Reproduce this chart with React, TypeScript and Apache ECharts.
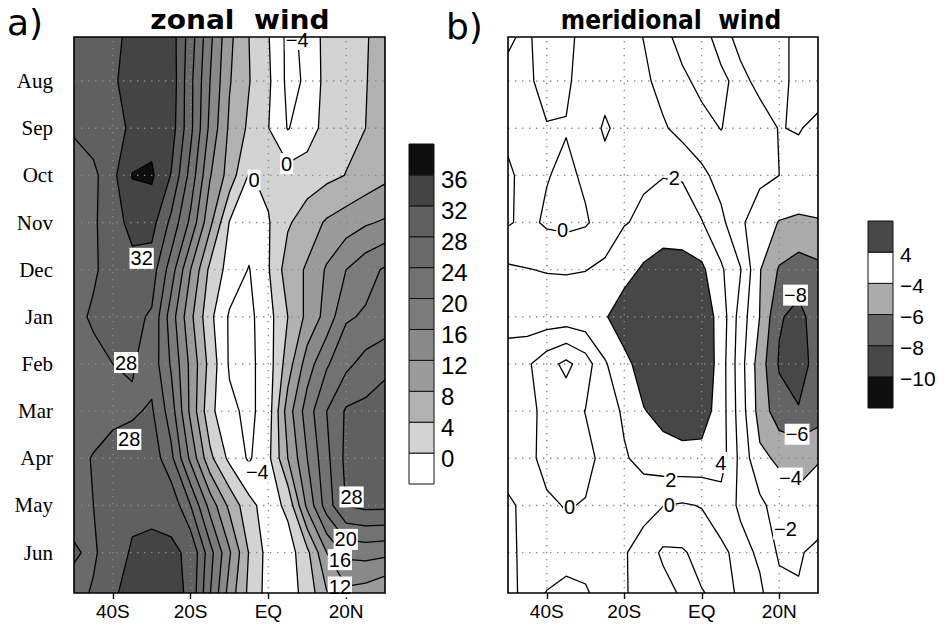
import React, { useEffect, useRef } from 'react';
import * as echarts from 'echarts';

// Grid nodes: latitude (south negative) and month rows (0 = Jul ... 12 = following Jul)
const LATS = [-50, -45, -40, -35, -30, -25, -20, -15, -10, -5, 0, 5, 10, 15, 20, 25, 30];
const MONTHS = [0, 1, 2, 3, 4, 5, 6, 7, 8, 9, 10, 11, 12];

const MONTH_TICKS = [1, 2, 3, 4, 5, 6, 7, 8, 9, 10, 11];
const MONTH_NAMES = ['Aug', 'Sep', 'Oct', 'Nov', 'Dec', 'Jan', 'Feb', 'Mar', 'Apr', 'May', 'Jun'];
const LAT_TICKS = [-40, -20, 0, 20];
const LAT_NAMES = ['40S', '20S', 'EQ', '20N'];

// Zonal wind (m/s), one row per month, one column per latitude node
const ZONAL_WIND = [
  [29, 30, 31, 33, 34, 34, 26, 17, 9, 4, 0.2, -5, -3, 1.5, 3, 3.8, 5],
  [29, 30.5, 31.5, 33.5, 34.5, 34.6, 25, 16, 8.3, 4.2, 0.7, -5, -3.5, 1.5, 2.8, 3.9, 5],
  [28.5, 30, 31, 32.5, 34.5, 34, 25, 15, 7.3, 3.3, 0.1, -4.2, -2, 1.5, 3, 4, 4.5],
  [26, 27, 31, 36.2, 36.6, 31.8, 22.5, 12.3, 6.3, -0.3, 1, 1.5, 2, 3, 4.1, 5.5, 7],
  [27, 27.5, 30, 33.5, 33.5, 27, 19, 9, -0.2, -2, -0.3, 3.5, 6, 8.5, 10, 11.5, 12.5],
  [26.5, 27.5, 29.5, 30.5, 30, 22, 12, 3, -1.5, -4.2, -0.3, 6, 8.5, 12.5, 16, 18.5, 20.5],
  [27, 28.5, 29, 29, 27.5, 18, 9, 1, -4.5, -5, -1.5, 4, 9, 13.5, 19.5, 20.5, 21],
  [26.5, 27, 28, 28.3, 26.5, 19.5, 11, 2.5, -4.5, -5, -2, 6, 14, 19.5, 23, 25.5, 27.5],
  [26, 26.5, 27, 27.5, 28.5, 22, 11, 1, -3, -5, -2, 10, 18, 24, 28.5, 29, 29],
  [27, 28.2, 29.5, 30, 30.5, 25, 15, 5, -1, -4.5, -1, 8, 16, 23, 29, 29.5, 29],
  [27, 28, 30, 31, 31, 31, 24, 14.5, 7, 1.3, -2, 1, 13, 22, 28.2, 29, 29],
  [28.3, 27.5, 30, 32.5, 33, 32.5, 31.5, 21.5, 12.5, 3.8, -1.5, -2, 3, 12, 17, 17.5, 17],
  [27, 28.5, 31.5, 34, 34.5, 34, 31, 20, 10, 3, -1.5, -2, 1.5, 7, 10, 9, 7],
];

// Meridional wind (m/s), same layout
const MERIDIONAL_WIND = [
  [-0.2, 0.2, -0.7, -0.5, 0.6, 1.2, 1, -0.1, -1.6, -2.6, -2.3, -1.6, -2.4, -2.8, -2.5, -1.5, -1],
  [0.3, 0.3, -0.6, -0.3, 0.8, 1.2, 1.2, 0.5, -0.8, -1.7, -2.4, -2.2, -1.7, -2.3, -2.4, -1.6, -1.2],
  [0.3, 0.5, 0.1, 0.1, 0.8, 2.3, 1.2, 1, 0.3, -0.8, -1.5, -2.05, -1.2, -1.5, -2.05, -1.9, -2.4],
  [-0.2, 0.4, 0.1, -0.4, 0.3, 1.2, 1.5, 1.8, 1.95, 1.9, 0.5, -0.8, -1.3, -1.6, -2, -2.6, -3],
  [-0.2, 0.5, -0.3, -0.5, -0.2, 0.8, 1.9, 2.3, 2.8, 2.6, 2.1, 0.5, -1.7, -3, -4.1, -4.3, -4.1],
  [2.3, 2.05, 1.9, 1.85, 1.95, 2.4, 3.2, 4.3, 5, 5, 4.4, 2.3, 0.1, -3.9, -6.2, -7, -6.5],
  [3, 3.2, 3.2, 3.2, 3.4, 3.8, 5.2, 6, 6.2, 6, 5.3, 3.2, -0.9, -4.05, -7.8, -8.6, -7],
  [0.8, 0.3, -1.2, -2.5, -1, 1.8, 3.4, 4.9, 6.5, 6.5, 5.8, 3, -1.2, -5, -8.2, -9.3, -6.8],
  [1, 0.4, -0.4, -0.8, 0.05, 1, 2.3, 3.9, 4.6, 5, 5, 3, -1, -4.8, -7.2, -7.8, -7],
  [1.2, 0.5, -0.6, -0.7, -0.5, 0.5, 1.8, 2.6, 3.2, 3.4, 3.3, 3, -0.6, -3.6, -4.3, -4.5, -4.1],
  [-0.4, 0.6, 0.3, -0.1, 0.1, 1, 1.2, 0.8, 0.05, -0.2, 0.1, 1, -0.3, -1.5, -3, -3.6, -3.3],
  [-0.5, 0.6, 0.8, 0.6, 0.6, 0.8, 0.2, -1, -2.3, -2.2, -1.4, -0.4, 0.6, -0.3, -2.3, -2.2, -1.5],
  [-0.5, 0.5, -0.2, -0.6, -0.3, 0.5, 0.2, -0.8, -1.2, -2.1, -2.2, -1.7, 0.6, 0.4, -1.2, -1.8, -1],
];

// Shading boundaries and colours (colours run from below the first level upward)
const ZONAL_SHADE_LEVELS = [0, 4, 8, 12, 16, 20, 24, 28, 32, 36];
const ZONAL_SHADE_COLORS = ['#ffffff', '#d3d3d3', '#b1b1b1', '#9b9b9b', '#898989', '#7b7b7b', '#727272', '#6a6a6a', '#606060', '#444444', '#0e0e0e'];
const ZONAL_CONTOURS = [-4, 0, 4, 8, 12, 16, 20, 24, 28, 32, 36];

const MERID_SHADE_LEVELS = [-10, -8, -6, -4, 4];
const MERID_SHADE_COLORS = ['#0e0e0e', '#474747', '#646464', '#ababab', '#ffffff', '#474747'];
const MERID_CONTOURS = [-10, -8, -6, -4, -2, 0, 2, 4];

// Contour labels: [lat, month, level]
const ZONAL_CONTOUR_LABELS = [
  [7.4, 0.12, -4], [4.7, 2.75, 0], [-3.7, 3.1, 0], [-32.6, 4.76, 32], [-36.6, 6.97, 28],
  [-35.8, 8.6, 28], [-2.85, 9.29, -4], [21.4, 9.82, 28], [19.9, 10.72, 20], [18.4, 11.15, 16], [18.4, 11.73, 12],
];
const MERID_CONTOUR_LABELS = [
  [-7.1, 3.06, 2], [-35.9, 4.16, 0], [24.2, 5.54, -8], [24.6, 8.49, -6], [4.9, 9.09, 4],
  [22.9, 9.42, -4], [-8, 9.46, 2], [-8.4, 9.99, 0], [-34.1, 10.03, 0], [21.6, 10.5, -2],
];

const fmtLevel = (v: number) => (v < 0 ? '\u2212' + Math.abs(v) : String(v));

type P = [number, number];

const lerp = (p: P, q: P, vp: number, vq: number, t: number): P => {
  const f = (t - vp) / (vq - vp);
  return [p[0] + f * (q[0] - p[0]), p[1] + f * (q[1] - p[1])];
};

// Region of a cell where value >= t (corners ordered TL, TR, BR, BL)
function cellRegions(c: P[], v: number[], t: number): P[][] {
  const hi = v.map((x) => x >= t);
  const n = hi.filter(Boolean).length;
  if (n === 0) return [];
  if (n === 4) return [c];
  const saddle = hi[0] === hi[2] && hi[1] === hi[3];
  const center = (v[0] + v[1] + v[2] + v[3]) / 4;
  if (saddle && center < t) {
    const out: P[][] = [];
    for (let k = 0; k < 4; k++) {
      if (!hi[k]) continue;
      const prev = (k + 3) % 4;
      const next = (k + 1) % 4;
      out.push([lerp(c[prev], c[k], v[prev], v[k], t), c[k], lerp(c[k], c[next], v[k], v[next], t)]);
    }
    return out;
  }
  const poly: P[] = [];
  for (let k = 0; k < 4; k++) {
    const m = (k + 1) % 4;
    if (hi[k]) poly.push(c[k]);
    if (hi[k] !== hi[m]) poly.push(lerp(c[k], c[m], v[k], v[m], t));
  }
  return [poly];
}

// Contour segments of level t through a cell
function cellSegments(c: P[], v: number[], t: number): [P, P][] {
  const hi = v.map((x) => x >= t);
  const cross: (P | null)[] = [0, 1, 2, 3].map((k) => {
    const m = (k + 1) % 4;
    return hi[k] !== hi[m] ? lerp(c[k], c[m], v[k], v[m], t) : null;
  });
  const pts = cross.filter((p) => p) as P[];
  if (pts.length === 2) return [[pts[0], pts[1]]];
  if (pts.length === 4) {
    const cHi = (v[0] + v[1] + v[2] + v[3]) / 4 >= t;
    if (hi[1] !== cHi) return [[cross[0]!, cross[1]!], [cross[2]!, cross[3]!]];
    return [[cross[3]!, cross[0]!], [cross[1]!, cross[2]!]];
  }
  return [];
}

const f2 = (p: P) => p[0].toFixed(2) + ' ' + p[1].toFixed(2);

function nodePixels(api: any): P[][] {
  return MONTHS.map((m) => LATS.map((lat) => api.coord([lat, m]) as P));
}

function forEachCell(field: number[][], px: P[][], fn: (c: P[], v: number[]) => void) {
  for (let i = 0; i < MONTHS.length - 1; i++) {
    for (let j = 0; j < LATS.length - 1; j++) {
      fn(
        [px[i][j], px[i][j + 1], px[i + 1][j + 1], px[i + 1][j]],
        [field[i][j], field[i][j + 1], field[i + 1][j + 1], field[i + 1][j]]
      );
    }
  }
}

const makeShadeRender = (field: number[][], levels: number[], colors: string[]) => (params: any, api: any) => {
  if (params.dataIndex !== 0) return null;
  const px = nodePixels(api);
  const a = px[0][0];
  const b = px[MONTHS.length - 1][LATS.length - 1];
  const children: any[] = [
    {
      type: 'rect',
      shape: { x: Math.min(a[0], b[0]), y: Math.min(a[1], b[1]), width: Math.abs(b[0] - a[0]), height: Math.abs(b[1] - a[1]) },
      style: { fill: colors[0] },
    },
  ];
  levels.forEach((t, k) => {
    let d = '';
    forEachCell(field, px, (c, v) => {
      for (const poly of cellRegions(c, v, t)) d += 'M' + poly.map(f2).join('L') + 'Z';
    });
    if (d) children.push({ type: 'path', shape: { pathData: d }, style: { fill: colors[k + 1] } });
  });
  return { type: 'group', children };
};

const makeLineRender = (field: number[][], levels: number[]) => (params: any, api: any) => {
  if (params.dataIndex !== 0) return null;
  const px = nodePixels(api);
  let d = '';
  levels.forEach((t) => {
    forEachCell(field, px, (c, v) => {
      for (const [p, q] of cellSegments(c, v, t)) d += 'M' + f2(p) + 'L' + f2(q);
    });
  });
  return {
    type: 'path',
    shape: { pathData: d },
    style: { fill: 'none', stroke: '#000', lineWidth: 1.3, lineJoin: 'round', lineCap: 'round' },
  };
};

const gridDotsRender = (params: any, api: any) => {
  if (params.dataIndex !== 0) return null;
  const y0 = MONTHS[0];
  const y1 = MONTHS[MONTHS.length - 1];
  const x0 = LATS[0];
  const x1 = LATS[LATS.length - 1];
  const dot = { stroke: '#8a8a8a', lineWidth: 1.4, lineDash: [1.4, 5.6] };
  const children: any[] = [];
  LAT_TICKS.forEach((lat) => {
    const p = api.coord([lat, y0]);
    const q = api.coord([lat, y1]);
    children.push({ type: 'line', shape: { x1: p[0], y1: p[1], x2: q[0], y2: q[1] }, style: dot });
  });
  MONTH_TICKS.forEach((m) => {
    const p = api.coord([x0, m]);
    const q = api.coord([x1, m]);
    children.push({ type: 'line', shape: { x1: p[0], y1: p[1], x2: q[0], y2: q[1] }, style: dot });
  });
  return { type: 'group', children };
};

const frameRender = (params: any, api: any) => {
  if (params.dataIndex !== 0) return null;
  const r = params.coordSys;
  return {
    type: 'rect',
    shape: { x: r.x, y: r.y, width: r.width, height: r.height },
    style: { fill: 'none', stroke: '#000', lineWidth: 1.6 },
  };
};

// Contour labels drawn as white-boxed texts at their data positions
const makeLabelRender = (labels: number[][]) => (params: any, api: any) => {
  if (params.dataIndex !== 0) return null;
  return {
    type: 'group',
    children: labels.map(([lat, m, lv]) => {
      const p = api.coord([lat, m]);
      return {
        type: 'text',
        x: p[0],
        y: p[1],
        style: {
          text: fmtLevel(lv),
          fill: '#000',
          fontSize: 20,
          fontFamily: 'Liberation Sans',
          align: 'center',
          verticalAlign: 'middle',
          backgroundColor: '#fff',
          padding: [1, 1, 0, 1],
        },
      };
    }),
  };
};

const PANELS = [
  { left: 74, width: 311, field: ZONAL_WIND, shadeLevels: ZONAL_SHADE_LEVELS, shadeColors: ZONAL_SHADE_COLORS, contours: ZONAL_CONTOURS, labels: ZONAL_CONTOUR_LABELS, monthLabels: true },
  { left: 508, width: 310, field: MERIDIONAL_WIND, shadeLevels: MERID_SHADE_LEVELS, shadeColors: MERID_SHADE_COLORS, contours: MERID_CONTOURS, labels: MERID_CONTOUR_LABELS, monthLabels: false },
];

function colorbar(x: number, top: number, bottom: number, colors: string[], levels: number[], fontSize: number, dy: number) {
  const w = 25;
  const h = (bottom - top) / colors.length;
  const els: any[] = [];
  colors.forEach((c, k) => {
    els.push({ type: 'rect', shape: { x, y: bottom - (k + 1) * h, width: w, height: h }, style: { fill: c, stroke: '#111', lineWidth: 1 } });
  });
  levels.forEach((lv, k) => {
    els.push({
      type: 'text',
      x: x + w + 7,
      y: bottom - (k + 1) * h + dy,
      style: { text: fmtLevel(lv), fill: '#000', fontSize, fontFamily: 'Liberation Sans', verticalAlign: 'middle', align: 'left' },
    });
  });
  return els;
}

export default function App() {
  const ref = useRef<HTMLDivElement>(null);

  useEffect(() => {
    if (!ref.current) return;
    const chart = echarts.init(ref.current, undefined, { renderer: 'svg' });

    const grid = PANELS.map((p) => ({ left: p.left, top: 37, width: p.width, height: 556, containLabel: false }));

    const xAxis = PANELS.map((_, i) => ({
      type: 'value',
      gridIndex: i,
      min: LATS[0],
      max: LATS[LATS.length - 1],
      axisLine: { show: false },
      splitLine: { show: false },
      axisTick: { show: true, customValues: LAT_TICKS, length: 6, lineStyle: { color: '#000', width: 1.4 } },
      axisLabel: {
        customValues: LAT_TICKS,
        formatter: (v: number) => LAT_NAMES[LAT_TICKS.indexOf(v)] ?? '',
        margin: 9,
        fontSize: 19,
        fontFamily: 'Liberation Sans',
        color: '#000',
      },
    }));

    const yAxis = PANELS.map((p, i) => ({
      type: 'value',
      gridIndex: i,
      inverse: true,
      min: 0.066,
      max: 11.857,
      axisLine: { show: false },
      splitLine: { show: false },
      axisTick: { show: p.monthLabels, customValues: MONTH_TICKS, length: 6, lineStyle: { color: '#000', width: 1.4 } },
      axisLabel: {
        show: p.monthLabels,
        customValues: MONTH_TICKS,
        formatter: (v: number) => MONTH_NAMES[MONTH_TICKS.indexOf(v)] ?? '',
        margin: 21,
        fontSize: 21,
        fontFamily: 'Liberation Serif',
        color: '#000',
      },
    }));

    const series: any[] = [];
    PANELS.forEach((p, i) => {
      const nodes = p.field.flatMap((row, r) => row.map((v, j) => [LATS[j], MONTHS[r], v]));
      series.push({
        type: 'custom', xAxisIndex: i, yAxisIndex: i, z: 1, clip: true, silent: true,
        renderItem: makeShadeRender(p.field, p.shadeLevels, p.shadeColors), data: nodes,
      });
      series.push({
        type: 'custom', xAxisIndex: i, yAxisIndex: i, z: 2, clip: true, silent: true,
        renderItem: gridDotsRender, data: [[0, 1]],
      });
      series.push({
        type: 'custom', xAxisIndex: i, yAxisIndex: i, z: 3, clip: true, silent: true,
        renderItem: makeLineRender(p.field, p.contours), data: nodes,
      });
      series.push({
        type: 'custom', xAxisIndex: i, yAxisIndex: i, z: 4, clip: false, silent: true,
        renderItem: makeLabelRender(p.labels), data: p.labels.map(([lat, m, lv]) => [lat, m, lv]),
      });
      series.push({
        type: 'custom', xAxisIndex: i, yAxisIndex: i, z: 5, clip: false, silent: true,
        renderItem: frameRender, data: [[0, 1]],
      });
    });

    const graphic: any[] = [
      { type: 'text', x: 7, y: 22, style: { text: 'a)', fontSize: 36, fontFamily: 'DejaVu Sans', fill: '#000', verticalAlign: 'middle', align: 'left' } },
      { type: 'text', x: 240, y: 20, scaleX: 1.08, style: { text: 'zonal  wind', fontSize: 26, fontWeight: 'bold', fontFamily: 'DejaVu Sans', fill: '#000', verticalAlign: 'middle', align: 'center' } },
      { type: 'text', x: 446, y: 26, style: { text: 'b)', fontSize: 36, fontFamily: 'DejaVu Sans', fill: '#000', verticalAlign: 'middle', align: 'left' } },
      { type: 'text', x: 671, y: 20, scaleX: 0.9, style: { text: 'meridional  wind', fontSize: 26, fontWeight: 'bold', fontFamily: 'DejaVu Sans', fill: '#000', verticalAlign: 'middle', align: 'center' } },
      ...colorbar(409, 144, 484, ZONAL_SHADE_COLORS, ZONAL_SHADE_LEVELS, 24, 5),
      ...colorbar(868, 221, 408, MERID_SHADE_COLORS, MERID_SHADE_LEVELS, 21, 2),
    ];

    chart.setOption({
      animation: false,
      backgroundColor: '#ffffff',
      grid,
      xAxis,
      yAxis,
      series,
      graphic,
    });

    return () => chart.dispose();
  }, []);

  return <div ref={ref} style={{ position: 'absolute', left: 0, top: 0, width: 950, height: 624 }} />;
}
